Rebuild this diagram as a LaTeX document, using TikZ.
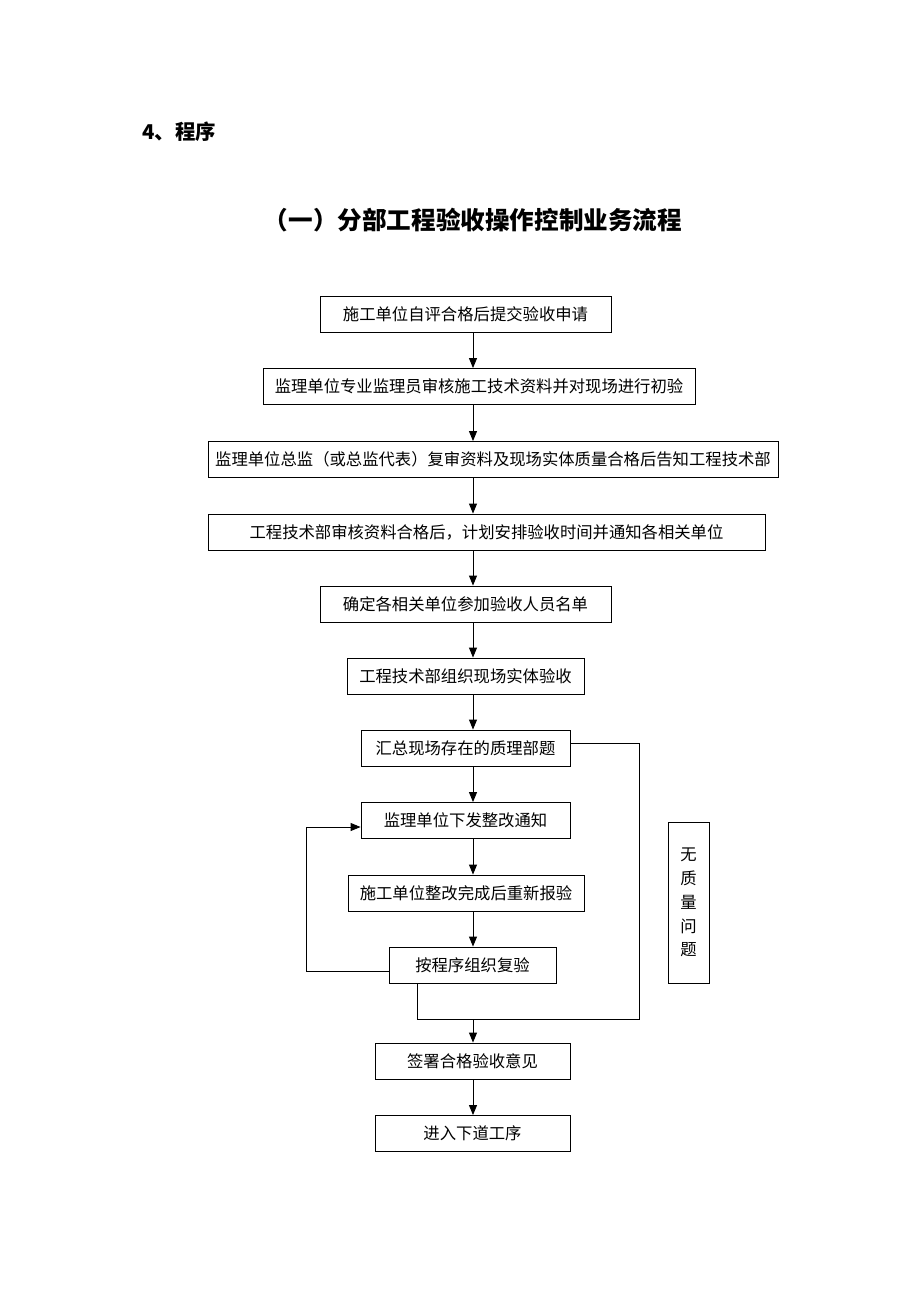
\documentclass[tikz,border=0pt]{standalone}
\usepackage{fontspec}
\setmainfont{Noto Sans CJK SC}
\usetikzlibrary{arrows.meta}
\tikzset{
  box/.style={draw, line width=0.5pt, minimum height=0.72cm, inner sep=0pt, font=\fontsize{9.3}{12}\selectfont},
  arr/.style={-{Triangle[length=2mm,width=1.6mm]}, line width=0.5pt},
  link/.style={line width=0.5pt}
}
\begin{document}
\begin{tikzpicture}[x=0.02cm, y=-0.02cm]
\useasboundingbox (0,0) rectangle (920,1302);
\node[font=\bfseries\fontsize{11.6}{14}\selectfont, anchor=west] (num) at (136,132) {4、程序};
\node[font=\bfseries\fontsize{14}{17}\selectfont] (title) at (473,220) {（一）分部工程验收操作控制业务流程};

\node[box, minimum width=5.82cm] (b1) at (465.5,314.5) {施工单位自评合格后提交验收申请};
\node[box, minimum width=8.64cm] (b2) at (479,386.5) {监理单位专业监理员审核施工技术资料并对现场进行初验};
\node[box, minimum width=11.4cm] (b3) at (493,459.5) {监理单位总监（或总监代表）复审资料及现场实体质量合格后告知工程技术部};
\node[box, minimum width=11.14cm] (b4) at (486.5,532) {工程技术部审核资料合格后，计划安排验收时间并通知各相关单位};
\node[box, minimum width=5.82cm] (b5) at (465.5,604) {确定各相关单位参加验收人员名单};
\node[box, minimum width=4.74cm] (b6) at (465.5,676) {工程技术部组织现场实体验收};
\node[box, minimum width=4.18cm] (b7) at (465.5,748) {汇总现场存在的质理部题};
\node[box, minimum width=4.18cm] (b8) at (465.5,820.5) {监理单位下发整改通知};
\node[box, minimum width=4.72cm] (b9) at (466,893) {施工单位整改完成后重新报验};
\node[box, minimum width=3.34cm] (b10) at (472.5,965) {按程序组织复验};
\node[box, minimum width=3.9cm] (b11) at (472.5,1061) {签署合格验收意见};
\node[box, minimum width=3.9cm] (b12) at (472.5,1133.5) {进入下道工序};
\node[box, minimum width=0.82cm, minimum height=3.22cm, align=center, font=\fontsize{9.3}{13.6}\selectfont] (side) at (688.5,902.5) {无\\质\\量\\问\\题};

% main flow
\coordinate (ax) at (473,0);
\foreach \a/\b in {b1/b2,b2/b3,b3/b4,b4/b5,b5/b6,b6/b7,b7/b8,b8/b9,b9/b10,b11/b12}
\draw[arr] (\a.south -| ax) -- (\b.north -| ax);

% re-inspection loop
\coordinate (lpt) at (306,827);
\coordinate (lpb) at (306,971);
\draw[arr] (b10.west |- lpb) -- (lpb) -- (lpt) -- (b8.west |- lpt);

% no quality problem
\coordinate (rt) at (639,743);
\coordinate (rb) at (639,1019);
\coordinate (lb) at (417,1019);
\draw[link] (b7.east |- rt) -- (rt) -- (rb) -- (lb) -- (lb |- b10.south);
\draw[arr] (ax |- rb) -- (b11.north -| ax);
\end{tikzpicture}
\end{document}
